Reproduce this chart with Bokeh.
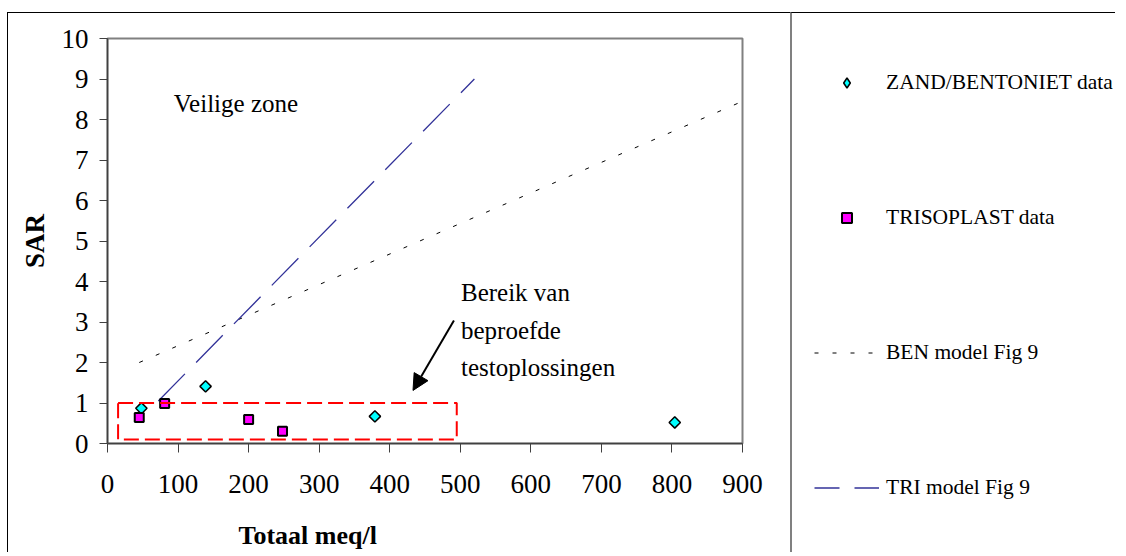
import math
from bokeh.plotting import figure
from bokeh.layouts import row
from bokeh.models import (Legend, LegendItem, Label, Arrow, NormalHead, Title,
                          BoxAnnotation, FixedTicker, Range1d, LinearAxis)
from bokeh.embed import file_html
from bokeh.resources import INLINE

# ---- data ----
zand_x = [48, 139, 379, 804]
zand_y = [0.87, 1.41, 0.67, 0.52]
tri_x = [45, 81, 200, 248]
tri_y = [0.64, 0.99, 0.59, 0.30]
ben_model_x = [45, 900]
ben_model_y = [2.0, 8.45]
tri_model_x = [72, 520]
tri_model_y = [1.05, 9.0]
x_ticks = [0, 100, 200, 300, 400, 500, 600, 700, 800, 900]
y_ticks = [0, 1, 2, 3, 4, 5, 6, 7, 8, 9, 10]
series_labels = ["ZAND/BENTONIET data", "TRISOPLAST data",
                 "BEN model Fig 9", "TRI model Fig 9"]
x_title = "Totaal meq/l"
y_title = "SAR"
zone_text = "Veilige zone"
range_text = ["Bereik van", "beproefde", "testoplossingen"]

FONT = "Liberation Serif"
H = 540

# ---------------- main chart ----------------
p = figure(width=783, height=H, output_backend="svg", toolbar_location=None,
           x_range=Range1d(0, 900), y_range=Range1d(0, 10),
           min_border_left=99, min_border_right=49,
           min_border_top=25, min_border_bottom=110,
           margin=(12, 0, 0, 7),
           styles={"border-left": "1px solid black", "border-top": "1px solid black"})
if "frame_align" in p.properties():
    p.frame_align = False
p.xgrid.visible = False
p.ygrid.visible = False
p.outline_line_color = "#808080"
p.outline_line_width = 2

for ax in (p.xaxis[0], p.yaxis[0]):
    ax.axis_line_color = "#404040"
    ax.axis_line_width = 1.5
    ax.major_tick_line_color = "#404040"
    ax.major_tick_in = 0
    ax.minor_tick_line_color = None
    ax.major_label_text_font = FONT
    ax.major_label_text_font_size = "27px"
    ax.major_label_text_color = "black"

p.xaxis.ticker = FixedTicker(ticks=x_ticks)
p.yaxis.ticker = FixedTicker(ticks=y_ticks)
p.xaxis.major_tick_out = 9
p.yaxis.major_tick_out = 8
p.xaxis.major_label_standoff = 22
p.yaxis.major_label_standoff = 11

p.yaxis.axis_label = y_title
p.yaxis.axis_label_text_font = FONT
p.yaxis.axis_label_text_font_style = "bold"
p.yaxis.axis_label_text_font_size = "27px"
p.yaxis.axis_label_text_color = "black"
p.yaxis.axis_label_standoff = 9

# blank spacer axis between the x axis and its (left-offset) title
spacer = LinearAxis(ticker=FixedTicker(ticks=[450]), axis_line_color=None,
                    major_tick_line_color="white", minor_tick_line_color=None,
                    major_tick_in=0, major_tick_out=23, minor_tick_out=0,
                    major_label_standoff=0, major_label_overrides={450: ""},
                    major_label_text_font_size="1px")
p.add_layout(spacer, "below")
p.add_layout(Title(text=x_title, align="left", offset=131, text_font=FONT,
                   text_font_style="bold", text_font_size="26px",
                   text_color="black", standoff=0), "below")

# ---- series ----
ben_style = dict(line_color="black", line_width=1, line_dash="4 14")
trim_style = dict(line_color="#333399", line_width=1.3, line_dash="38 16")
zand_style = dict(marker="square", angle=math.pi / 4, size=8,
                  fill_color="#00FFFF", line_color="black", line_width=1.5)
tri_style = dict(marker="square", size=9, fill_color="#FF00FF",
                 line_color="black", line_width=2)

p.line(ben_model_x, ben_model_y, **ben_style)
p.line(tri_model_x, tri_model_y, **trim_style)
p.scatter(zand_x, zand_y, **zand_style)
p.scatter(tri_x, tri_y, **tri_style)

# ---- annotations ----
p.add_layout(BoxAnnotation(left=15, right=495, bottom=0.1, top=1.0,
                           fill_alpha=0, line_color="red", line_alpha=1,
                           line_width=2, line_dash="15 6"))
p.add_layout(Arrow(end=NormalHead(size=16, fill_color="black", line_color="black"),
                   x_start=491, y_start=3.04, x_end=433, y_end=1.31,
                   line_width=2, line_color="black"))
p.add_layout(Label(x=94, y=8.4, text=zone_text, text_font=FONT,
                   text_color="black", text_font_size="25px",
                   text_baseline="alphabetic"))
for txt, yy in zip(range_text, [3.73, 2.79, 1.88]):
    p.add_layout(Label(x=501, y=yy, text=txt, text_font=FONT,
                       text_color="black", text_font_size="25px",
                       text_baseline="alphabetic"))

# ---------------- legend panel ----------------
q = figure(width=325, height=H, output_backend="svg", toolbar_location=None,
           x_axis_type=None, y_axis_type=None,
           x_range=Range1d(0, 1), y_range=Range1d(0, 1),
           min_border=0, margin=(12, 0, 0, 0),
           styles={"border-left": "2px solid #808080", "border-top": "1px solid black"})
if "frame_align" in q.properties():
    q.frame_align = False
q.outline_line_color = None
q.grid.visible = False

# legend keys (hidden renderers, only their legend glyphs are shown)
zand_key_style = dict(zand_style, marker="diamond", angle=0)
trim_key_style = dict(trim_style, line_dash="25 15")
k_zand = q.scatter(zand_x, zand_y, visible=False, **zand_key_style)
k_tri = q.scatter(tri_x, tri_y, visible=False, **tri_style)
k_ben = q.line(ben_model_x, ben_model_y, visible=False, **ben_style)
k_trim = q.line(tri_model_x, tri_model_y, visible=False, **trim_key_style)

legend = Legend(items=[
    LegendItem(label=series_labels[0], renderers=[k_zand]),
    LegendItem(label=series_labels[1], renderers=[k_tri]),
    LegendItem(label=series_labels[2], renderers=[k_ben]),
    LegendItem(label=series_labels[3], renderers=[k_trim]),
], location=(22, 53))
legend.glyph_width = 65
legend.glyph_height = 25
legend.label_height = 25
legend.spacing = 110
legend.padding = 0
legend.margin = 0
legend.label_standoff = 7
legend.border_line_color = None
legend.background_fill_alpha = 0
legend.inactive_fill_alpha = 0
legend.label_text_font = FONT
legend.label_text_font_size = "21.5px"
legend.label_text_color = "black"
q.add_layout(legend)

layout = row(p, q)
open("out.html", "w").write(file_html(layout, INLINE))
